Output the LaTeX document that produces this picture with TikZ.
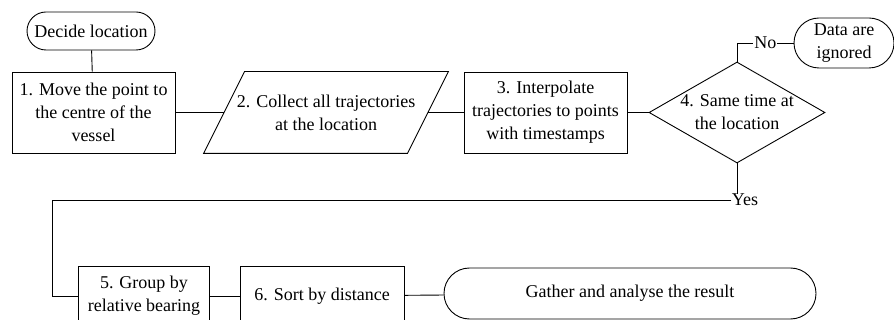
\documentclass[tikz,border=0pt]{standalone}
\usepackage{fontspec}
\setmainfont{Liberation Serif}
\usetikzlibrary{shapes.geometric, shapes.misc}

\begin{document}
\begin{tikzpicture}[x=0.5pt, y=-0.5pt, line width=0.45pt,
  every node/.style={font=\rmfamily\fontsize{9}{11.5}\selectfont, align=center},
  stepbox/.style={rectangle, draw, inner sep=1pt},
  term/.style={rounded rectangle, draw, inner sep=1pt},
  iobox/.style={rectangle, inner sep=1pt},
  decision/.style={diamond, draw, aspect=1.75, inner sep=0pt},
  link/.style={-}
]
  \useasboundingbox (0,0) rectangle (894,320);

  \node[term, minimum width=66pt, minimum height=19pt] (start) at (91,31) {Decide location};
  \node[stepbox, minimum width=81.5pt, minimum height=40.5pt] (s1) at (93.5,112.5)
    {1. Move the point to\\the centre of the\\vessel};
  \node[iobox, minimum width=101.5pt, minimum height=40.5pt] (s2) at (326,112.5)
    {2. Collect all trajectories\\at the location};
  \node[stepbox, minimum width=81.5pt, minimum height=40.5pt] (s3) at (545.5,112.5)
    {3. Interpolate\\trajectories to points\\with timestamps};
  \node[decision, minimum width=88pt, minimum height=50.5pt] (s4) at (737,112.5)
    {4. Same time at\\the location};
  \node[term, minimum width=52pt, minimum height=25pt] (ign) at (844,43) {Data are\\ignored};

  \node[stepbox, minimum width=65.5pt, minimum height=30pt] (s5) at (144,296)
    {5. Group by\\relative bearing};
  \node[stepbox, minimum width=82pt, minimum height=30pt] (s6) at (322,296)
    {6. Sort by distance};
  \node[term, minimum width=188pt, minimum height=25.5pt] (fin) at (630,293.5)
    {Gather and analyse the result};

  % slanted outline of step 2
  \draw ([xshift=-10.25pt]s2.south west) -- ([xshift=10.25pt]s2.north west)
    -- ([xshift=10.25pt]s2.north east) -- ([xshift=-10.25pt]s2.south east) -- cycle;

  \node[inner sep=0pt] (yes) at (745,200) {Yes};
  \coordinate (turn) at (52,200);

  \draw[link] (start) -- (s1);
  \draw[link] (s1) -- (s2);
  \draw[link] (s2) -- (s3);
  \draw[link] (s3) -- (s4);
  \draw[link] (s4.north) |- node[pos=0.75, fill=white, inner sep=0.5pt] {No} (ign.west);
  \draw[link] (s4.south) -- (s4.south |- yes.north);
  \draw[link] (yes.west) -- (turn) |- (s5.west);
  \draw[link] (s5) -- (s6);
  \draw[link] (s6) -- (fin);
\end{tikzpicture}
\end{document}
